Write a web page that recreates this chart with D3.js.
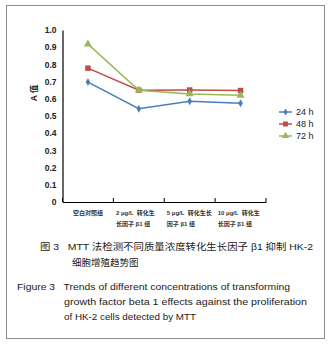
<!DOCTYPE html>
<html><head><meta charset="utf-8">
<script src="https://cdn.jsdelivr.net/npm/d3@7"></script>
<style>body{margin:0;background:#fff}svg{display:block}text{white-space:pre}</style>
</head><body>
<svg id="c" width="332" height="348"></svg>
<script>
const categories = ["空白对照组", "2 μg/L 转化生长因子 β1 组", "5 μg/L 转化生长因子 β1 组", "10 μg/L 转化生长因子 β1 组"];
const categoryLines = [["空白对照组"], ["2 μg/L  转化生", "长因子 β1 组"], ["5 μg/L  转化生长", "因子 β1 组"], ["10 μg/L  转化生", "长因子 β1 组"]];
const seriesNames = ["24 h", "48 h", "72 h"];
const values24 = [0.697, 0.542, 0.586, 0.574];
const values48 = [0.778, 0.650, 0.651, 0.648];
const values72 = [0.918, 0.650, 0.628, 0.620];
const yTicks = [0, 0.1, 0.2, 0.3, 0.4, 0.5, 0.6, 0.7, 0.8, 0.9, 1.0];
const colors = ["#4a7ebb", "#be4b48", "#98b954"];

const svg = d3.select("#c");
svg.append("rect").attr("x", 6.5).attr("y", 5.5).attr("width", 318).attr("height", 333)
  .attr("fill", "none").attr("stroke", "#8c8c8c").attr("stroke-width", 1);

const x = d3.scaleBand().domain(categories).range([62.5, 266]);
const y = d3.scaleLinear().domain([0, 1]).range([202, 30]);

const g = svg.append("g");
// y axis
const ya = g.append("g").attr("transform", "translate(62.5,0)")
  .call(d3.axisLeft(y).tickValues(yTicks).tickSize(0).tickPadding(6)
    .tickFormat(d => d === 0 ? "0" : d3.format(".1f")(d)));
ya.select(".domain").attr("stroke", "#000").attr("stroke-width", 1.2);
ya.selectAll("text").attr("font-family", "Arial, 'Liberation Sans', sans-serif")
  .attr("font-size", 8.5).attr("font-weight", "bold").attr("fill", "#222");

// x axis
const xa = g.append("g").attr("transform", "translate(0,202)")
  .call(d3.axisBottom(x).tickSize(0).tickFormat(""));
xa.select(".domain").attr("stroke", "#000").attr("stroke-width", 1.2);
const bounds = [...categories.map(c => x(c)), x.range()[1]];
bounds.forEach(b => g.append("line").attr("x1", b).attr("x2", b).attr("y1", 202).attr("y2", 198)
  .attr("stroke", "#000").attr("stroke-width", 1));

categoryLines.forEach((lines, i) => {
  const c = categories[i];
  lines.forEach((ln, j) => {
    const t = g.append("text").attr("y", 215 + j * 10.5)
      .attr("font-family", "Arial, 'Noto Sans CJK SC', sans-serif").attr("font-size", 6)
      .attr("font-weight", "bold").attr("fill", "#333").text(ln);
    if (i === 0) t.attr("x", x(c) + x.bandwidth() / 2).attr("text-anchor", "middle");
    else t.attr("x", x(c) + 2.5);
  });
});

// y title
svg.append("text").attr("transform", "translate(37,93) rotate(-90)").attr("text-anchor", "middle")
  .attr("font-family", "Arial, 'Noto Sans CJK SC', sans-serif").attr("font-size", 8.5)
  .attr("font-weight", "bold").attr("fill", "#222").text("A 值");

const allSeries = [values24, values48, values72];
const line = d3.line().x((d, i) => x(categories[i]) + x.bandwidth() / 2).y(d => y(d));
const symbols = [d3.symbolDiamond, d3.symbolSquare, d3.symbolTriangle];
const sizes = [18, 30, 28];
allSeries.forEach((vals, s) => {
  g.append("path").attr("d", line(vals)).attr("fill", "none").attr("stroke", colors[s]).attr("stroke-width", 1.5);
  vals.forEach((v, i) => {
    g.append("path").attr("d", d3.symbol().type(symbols[s]).size(sizes[s])())
      .attr("transform", `translate(${x(categories[i]) + x.bandwidth() / 2},${y(v)})`)
      .attr("fill", colors[s]);
  });
});

// legend
seriesNames.forEach((n, s) => {
  const ly = 112 + s * 12;
  svg.append("line").attr("x1", 279).attr("x2", 292).attr("y1", ly).attr("y2", ly)
    .attr("stroke", colors[s]).attr("stroke-width", 1.5);
  svg.append("path").attr("d", d3.symbol().type(symbols[s]).size(sizes[s] * 0.8)())
    .attr("transform", `translate(285.5,${ly})`).attr("fill", colors[s]);
  svg.append("text").attr("x", 296).attr("y", ly + 3.2)
    .attr("font-family", "Arial, 'Liberation Sans', sans-serif").attr("font-size", 9)
    .attr("fill", "#222").text(n);
});

// captions
const cap = svg.append("g").attr("font-family", "Arial, 'Noto Sans CJK SC', sans-serif").attr("fill", "#1a1a1a");
cap.append("text").attr("x", 40).attr("y", 250).attr("font-size", 9.5).text("图 3   MTT 法检测不同质量浓度转化生长因子 β1 抑制 HK-2")
  .attr("textLength", 273).attr("lengthAdjust", "spacingAndGlyphs");
cap.append("text").attr("x", 72).attr("y", 266).attr("font-size", 9.5).text("细胞增殖趋势图");
const en = ["Figure 3   Trends of different concentrations of transforming",
  "growth factor beta 1 effects against the proliferation",
  "of HK-2 cells detected by MTT"];
const enX = [17, 64, 64];
const enLen = [273, 243, 132];
en.forEach((t, i) => cap.append("text").attr("x", enX[i]).attr("y", 289.5 + i * 15)
  .attr("font-size", 9.5).text(t).attr("textLength", enLen[i]).attr("lengthAdjust", "spacingAndGlyphs"));
</script>
</body></html>
